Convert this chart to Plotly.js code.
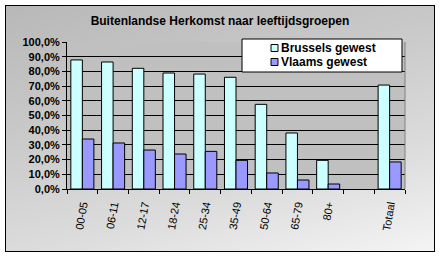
<!DOCTYPE html>
<html><head><meta charset="utf-8">
<script src="https://cdn.plot.ly/plotly-3.0.1.min.js"></script>
<style>
html,body{margin:0;padding:0;background:#fff;}
#wrap{position:absolute;left:5px;top:5px;width:428px;height:245px;border:1px solid #000;
background:linear-gradient(165deg,#b8b8b8 0%,#c8c8c8 35%,#dcdcdc 70%,#f4f4f4 100%);}
#chart{position:absolute;left:0;top:0;width:440px;height:256px;}
</style></head>
<body>
<div id="wrap"></div>
<div id="chart"></div>
<script>
const categories = ['00-05','06-11','12-17','18-24','25-34','35-49','50-64','65-79','80+',' ','Totaal'];
const brussels = [0.878,0.864,0.821,0.789,0.782,0.760,0.576,0.381,0.195,null,0.707];
const vlaams = [0.340,0.313,0.265,0.238,0.256,0.195,0.109,0.061,0.034,null,0.184];
const yTicks = [0,0.1,0.2,0.3,0.4,0.5,0.6,0.7,0.8,0.9,1.0];
const seriesNames = ['Brussels gewest','Vlaams gewest'];
const seriesColors = ['#CCFFFF','#9999FF'];

const traces = [
 {type:'bar', name:seriesNames[0], x:categories, y:brussels, showlegend:false,
  marker:{color:seriesColors[0], line:{color:'#000', width:1}}},
 {type:'bar', name:seriesNames[1], x:categories, y:vlaams, showlegend:false,
  marker:{color:seriesColors[1], line:{color:'#000', width:1}}}
];

// custom legend (box, swatches, labels) in paper coordinates
const legShapes = [
 {type:'rect', xref:'paper', yref:'paper', x0:0.5178, x1:0.9911, y0:0.7959, y1:1.0204,
  fillcolor:'#fff', line:{color:'#000', width:1}},
 {type:'rect', xref:'paper', yref:'paper', x0:0.6036, x1:0.6243, y0:0.9354, y1:0.983,
  fillcolor:seriesColors[0], line:{color:'#000', width:1}},
 {type:'rect', xref:'paper', yref:'paper', x0:0.6036, x1:0.6243, y0:0.8401, y1:0.8878,
  fillcolor:seriesColors[1], line:{color:'#000', width:1}}
];
const legAnn = [
 {xref:'paper', yref:'paper', x:0.627, y:0.959, xanchor:'left', yanchor:'middle', showarrow:false,
  text:seriesNames[0], font:{size:12, color:'#000', weight:'bold'}},
 {xref:'paper', yref:'paper', x:0.627, y:0.864, xanchor:'left', yanchor:'middle', showarrow:false,
  text:seriesNames[1], font:{size:12, color:'#000', weight:'bold'}}
];

const layout = {
 width:440, height:256,
 paper_bgcolor:'rgba(0,0,0,0)', plot_bgcolor:'#C0C0C0',
 margin:{l:67, r:35, t:42, b:67},
 separators:',.',
 barmode:'group', bargap:0.25, bargroupgap:0,
 showlegend:false,
 title:{text:'Buitenlandse Herkomst naar leeftijdsgroepen', x:0.5, xanchor:'center', y:0.92, yanchor:'middle',
  font:{family:'Liberation Sans, Arial', size:12, color:'#000', weight:'bold'}},
 font:{family:'Liberation Sans, Arial', color:'#000'},
 xaxis:{type:'category', tickangle:-80, tickson:'boundaries', ticks:'outside', ticklen:4, tickcolor:'#000',
  showline:true, linecolor:'#000', linewidth:1, showgrid:false, ticklabelstandoff:4,
  tickfont:{size:11, color:'#000'}},
 yaxis:{range:[0,1], tickvals:yTicks, tickformat:'.1%', ticks:'outside', ticklen:4, tickcolor:'#000',
  showline:true, linecolor:'#000', linewidth:1, showgrid:true, gridcolor:'#000', gridwidth:1,
  zeroline:false, tickfont:{size:11, color:'#000', weight:'bold'}},
 shapes:[{type:'line', xref:'paper', yref:'paper', x0:1, x1:1, y0:0, y1:1, line:{color:'#808080', width:1}}].concat(legShapes),
 annotations:legAnn
};
Plotly.newPlot('chart', traces, layout, {displayModeBar:false, staticPlot:true});
</script>
</body></html>
